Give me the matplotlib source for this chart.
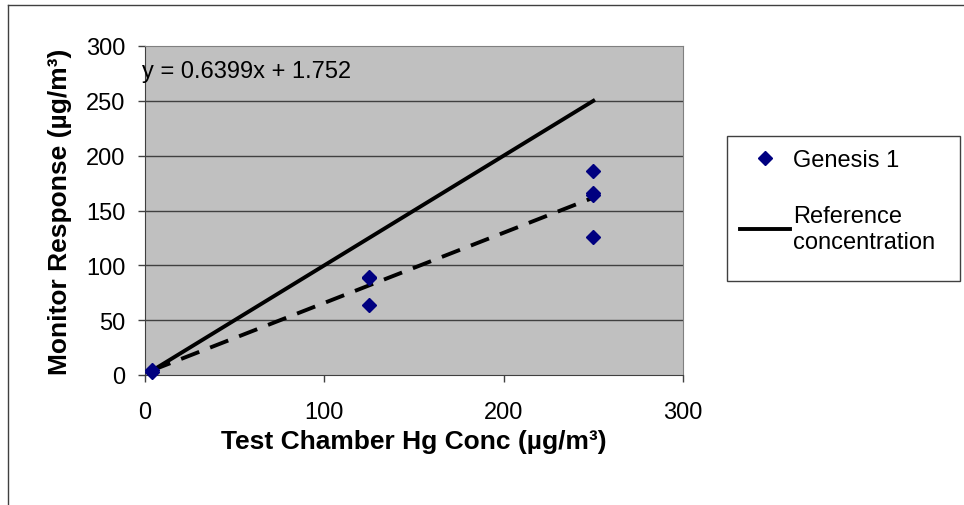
'''
Genesis 1 monitor response vs test chamber Hg concentration
'''
import numpy as np
import matplotlib
matplotlib.use('Agg')
import matplotlib.pyplot as plt
from matplotlib.lines import Line2D
from matplotlib.patches import Rectangle

plt.rcParams['font.family'] = ['Liberation Sans', 'DejaVu Sans']

# data
chamber_conc = [4, 4, 125, 125, 125, 250, 250, 250, 250]
monitor_resp = [5, 3, 89, 88, 64, 186, 166, 164, 126]
ref_conc = [4, 125, 250]
trend_slope = 0.6399
trend_icept = 1.752
x_ticks = [0, 100, 200, 300]
y_ticks = [0, 50, 100, 150, 200, 250, 300]

W, H = 964, 506
fig = plt.figure(figsize=(W/100, H/100), dpi=100)
ax = fig.add_axes([145/W, 1-376/H, (683-145)/W, (376-47)/H])
ax.set_facecolor('#C0C0C0')

# outer chart border (only top and left visible in the original)
fig.add_artist(Line2D([8/W, 8/W], [-0.1, 1-6/H], color='#404040', lw=1))
fig.add_artist(Line2D([8/W, 1.1], [1-6/H, 1-6/H], color='#404040', lw=1))

for yv in y_ticks[1:-1]:
	ax.axhline(yv, color='#404040', lw=1, zorder=1)

ax.plot(chamber_conc, monitor_resp, linestyle='none', marker='D', ms=7,
	color='#000080', zorder=4, label='Genesis 1', clip_on=False)
ax.plot(ref_conc, ref_conc, color='black', lw=2.8, zorder=3,
	label='Reference\nconcentration')
tx = np.array([min(chamber_conc), max(chamber_conc)])
ax.plot(tx, trend_slope * tx + trend_icept, color='black', lw=2.8,
	dashes=(5, 3), zorder=3)

ax.set_xlim(0, 300)
ax.set_ylim(0, 300)
ax.set_xticks(x_ticks)
ax.set_yticks(y_ticks)
ax.tick_params(labelsize=17, length=5, width=1, color='#404040')
ax.tick_params(axis='x', pad=14)
ax.tick_params(axis='y', pad=9)
for s in ['top', 'right']:
	ax.spines[s].set_color('#808080')
for s in ['left', 'bottom']:
	ax.spines[s].set_color('#404040')

ax.text(-0.005, 0.924, 'y = 0.6399x + 1.752', transform=ax.transAxes,
	fontsize=17, ha='left', va='center')

ax.set_xlabel('Test Chamber Hg Conc (\u00b5g/m\u00b3)', fontsize=19,
	fontweight='bold', labelpad=4)
ax.set_ylabel('Monitor Response (\u00b5g/m\u00b3)', fontsize=19,
	fontweight='bold', labelpad=10)

# legend box drawn separately so it can match the original size
fig.add_artist(Rectangle((727/W, 1-282/H), (960-727)/W, (282-137)/H,
	transform=fig.transFigure, facecolor='white', edgecolor='#404040',
	lw=1, zorder=0))
leg = fig.legend(loc='upper left', bbox_to_anchor=(727/W, 1-137/H),
	fontsize=17, frameon=False, labelspacing=1.45, handlelength=2.1,
	borderpad=0.55, handletextpad=0.15, borderaxespad=0)

plt.savefig('out.png', dpi=100)
